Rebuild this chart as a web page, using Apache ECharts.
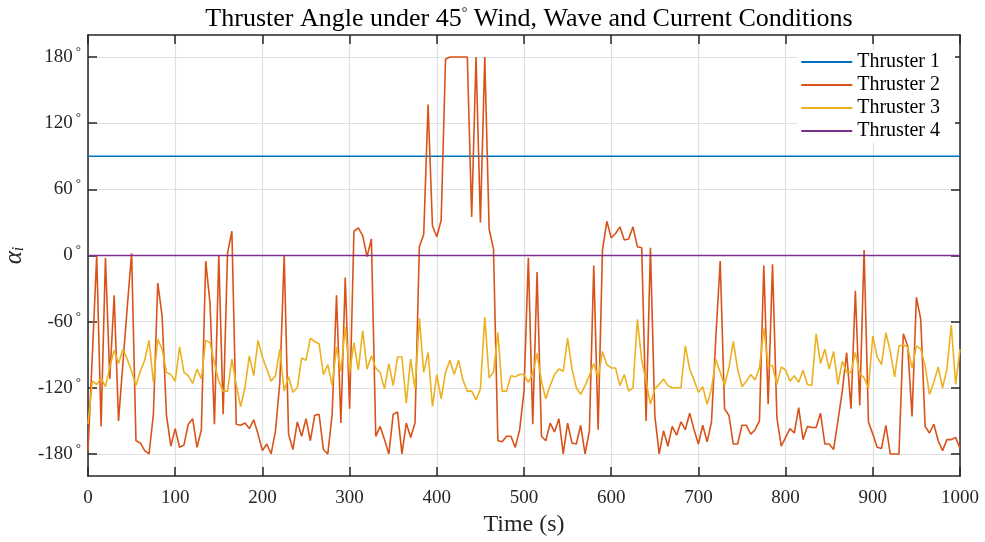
<!DOCTYPE html>
<html>
<head>
<meta charset="utf-8">
<script src="https://cdn.jsdelivr.net/npm/echarts@6/dist/echarts.min.js"></script>
<style>
  html, body { margin: 0; padding: 0; background: #fff; }
  #chart { width: 985px; height: 542px; }
</style>
</head>
<body>
<div id="chart"></div>
<script>
// Sample times (s), one every 5 s from 0 to 1000
const timeStart = 0;
const timeStep = 5;

// Thruster 2 azimuth (deg), one value per sample time
const thruster2 = [
  -177,-90,0,-155,-2,-112,-36,-150,-98,-47,2,-168,-170,-177,-180,-144,-25,-55,-145,-173,
  -157,-174,-172,-153,-148,-174,-158,-5,-44,-153,0,-144,2,22,-153,-154,-152,-157,-149,-162,
  -177,-171,-180,-159,-115,0,-162,-176,-151,-164,-148,-168,-145,-144,-176,-180,-144,-36,-152,-20,
  -139,22,25,18,-1,15,-164,-155,-167,-180,-144,-142,-180,-152,-165,-152,8,19,137,27,
  17,32,178,180,180,180,180,180,35,180,30,180,24,6,-168,-169,-164,-164,-174,-158,
  -123,-2,-153,-15,-164,-168,-152,-160,-148,-180,-152,-170,-171,-154,-180,-159,-9,-158,5,31,
  16,20,26,14,15,26,8,7,-150,7,-145,-180,-159,-173,-155,-163,-151,-158,-143,-158,
  -171,-154,-169,-151,-74,-5,-139,-145,-171,-171,-154,-154,-162,-158,-150,-9,-135,-8,-147,-173,
  -165,-157,-161,-138,-167,-155,-156,-156,-143,-171,-171,-176,-150,-123,-88,-139,-32,-136,5,-151,
  -162,-174,-175,-154,-180,-180,-180,-71,-82,-146,-38,-58,-155,-161,-153,-168,-177,-167,-167,-165,-175
];

// Thruster 3 azimuth (deg), one value per sample time
const thruster3 = [
  -153,-114,-117,-111,-119,-101,-86,-98,-85,-94,-105,-118,-105,-95,-77,-115,-76,-85,-106,-108,
  -114,-83,-106,-109,-116,-103,-112,-77,-79,-98,-114,-123,-123,-94,-117,-137,-120,-91,-109,-77,
  -92,-103,-114,-109,-85,-123,-110,-124,-120,-93,-95,-75,-78,-80,-108,-99,-118,-83,-105,-65,
  -106,-79,-104,-68,-103,-91,-102,-106,-121,-98,-118,-92,-92,-134,-94,-121,-57,-106,-88,-137,
  -108,-130,-106,-95,-108,-95,-113,-123,-123,-131,-121,-56,-111,-106,-70,-123,-123,-109,-110,-108,
  -108,-115,-107,-89,-114,-130,-118,-108,-103,-105,-75,-103,-120,-126,-118,-109,-98,-111,-87,-99,
  -102,-102,-118,-108,-123,-120,-58,-95,-114,-135,-121,-117,-112,-118,-120,-120,-120,-82,-103,-113,
  -124,-119,-135,-121,-94,-106,-118,-102,-78,-103,-119,-114,-108,-113,-102,-66,-100,-100,-117,-101,
  -104,-114,-109,-115,-104,-117,-118,-71,-98,-85,-103,-87,-117,-96,-106,-106,-88,-107,-111,-120,
  -73,-92,-99,-70,-87,-110,-82,-81,-83,-102,-82,-85,-100,-126,-115,-101,-120,-103,-63,-117,-85
];

// Thrusters 1 and 4 hold a fixed angle over the whole run
const holdTimes = [0, 1000];
const thruster1 = [90, 90];
const thruster4 = [0, 0];

// Axis ticks
const xTicks = [0, 100, 200, 300, 400, 500, 600, 700, 800, 900, 1000];
const yTicks = [-180, -120, -60, 0, 60, 120, 180];

const seriesNames = ['Thruster 1', 'Thruster 2', 'Thruster 3', 'Thruster 4'];
const seriesColors = ['#0072BD', '#D95319', '#EDB120', '#7E2F8E'];

const sampled = vals => vals.map((v, i) => [timeStart + i * timeStep, v]);
const held = vals => vals.map((v, i) => [holdTimes[i], v]);

const FONT = 'Liberation Serif';
const AXIS_COLOR = '#262626';
const GRID_COLOR = '#e0e0e0';

function xAxisDef(pos, showLabels) {
  return {
    type: 'value', position: pos, min: 0, max: 1000,
    axisLine: { show: true, onZero: false, lineStyle: { color: AXIS_COLOR, width: 1.5 } },
    axisTick: { show: true, inside: true, length: 9, customValues: xTicks,
                lineStyle: { color: AXIS_COLOR, width: 1.5 } },
    axisLabel: { show: showLabels, customValues: xTicks, fontFamily: FONT, fontSize: 19,
                 color: AXIS_COLOR, margin: 13, formatter: v => String(v) },
    splitLine: { show: showLabels, lineStyle: { color: GRID_COLOR, width: 1.2 } },
    name: showLabels ? 'Time (s)' : '', nameLocation: 'middle', nameGap: 37,
    nameTextStyle: { fontFamily: FONT, fontSize: 24, color: AXIS_COLOR }
  };
}

function yAxisDef(pos, showLabels) {
  return {
    type: 'value', position: pos, min: -200, max: 200,
    axisLine: { show: true, onZero: false, lineStyle: { color: AXIS_COLOR, width: 1.5 } },
    axisTick: { show: true, inside: true, length: 9, customValues: yTicks,
                lineStyle: { color: AXIS_COLOR, width: 1.5 } },
    axisLabel: {
      show: showLabels, customValues: yTicks, margin: 7,
      formatter: v => '{n|' + v + '}{d|°}',
      rich: {
        n: { fontFamily: FONT, fontSize: 19, color: AXIS_COLOR, lineHeight: 24 },
        d: { fontFamily: FONT, fontSize: 13, color: AXIS_COLOR, verticalAlign: 'top', padding: [0, 0, 0, 3] }
      }
    },
    splitLine: { show: showLabels, lineStyle: { color: GRID_COLOR, width: 1.2 } },
    name: showLabels ? 'α{i|i}' : '', nameLocation: 'middle', nameGap: 58, nameRotate: 90,
    nameTextStyle: {
      fontFamily: FONT, fontSize: 25, fontStyle: 'italic', color: AXIS_COLOR,
      rich: { i: { fontFamily: FONT, fontSize: 16, fontStyle: 'italic', color: AXIS_COLOR,
                   verticalAlign: 'bottom', padding: [10, 0, 0, 0] } }
    }
  };
}

const chart = echarts.init(document.getElementById('chart'), null, { renderer: 'canvas' });

chart.setOption({
  animation: false,
  backgroundColor: '#fff',
  title: {
    text: 'Thruster Angle under 45{d|°} Wind, Wave and Current Conditions',
    left: 524, textAlign: 'center', top: 1,
    textStyle: {
      fontFamily: FONT, fontSize: 26, fontWeight: 'normal', color: '#000',
      rich: { d: { fontFamily: FONT, fontSize: 14, color: '#000', verticalAlign: 'top' } }
    }
  },
  grid: { left: 88, right: 25, top: 35, bottom: 66, containLabel: false, outerBoundsMode: 'none' },
  legend: {
    orient: 'vertical', right: 30, top: 50, padding: [2, 15, 2, 4],
    backgroundColor: '#fff', itemGap: 3, itemWidth: 51, itemHeight: 2,
    icon: 'rect',
    textStyle: { fontFamily: FONT, fontSize: 20, color: '#000', lineHeight: 20 },
    data: seriesNames
  },
  xAxis: [xAxisDef('bottom', true), xAxisDef('top', false)],
  yAxis: [yAxisDef('left', true), yAxisDef('right', false)],
  series: [
    { name: seriesNames[0], type: 'line', data: held(thruster1) },
    { name: seriesNames[1], type: 'line', data: sampled(thruster2) },
    { name: seriesNames[2], type: 'line', data: sampled(thruster3) },
    { name: seriesNames[3], type: 'line', data: held(thruster4) }
  ].map((s, i) => Object.assign(s, {
    showSymbol: false, symbol: 'none', color: seriesColors[i],
    lineStyle: { width: 1.6, color: seriesColors[i] }
  }))
});
</script>
</body>
</html>
